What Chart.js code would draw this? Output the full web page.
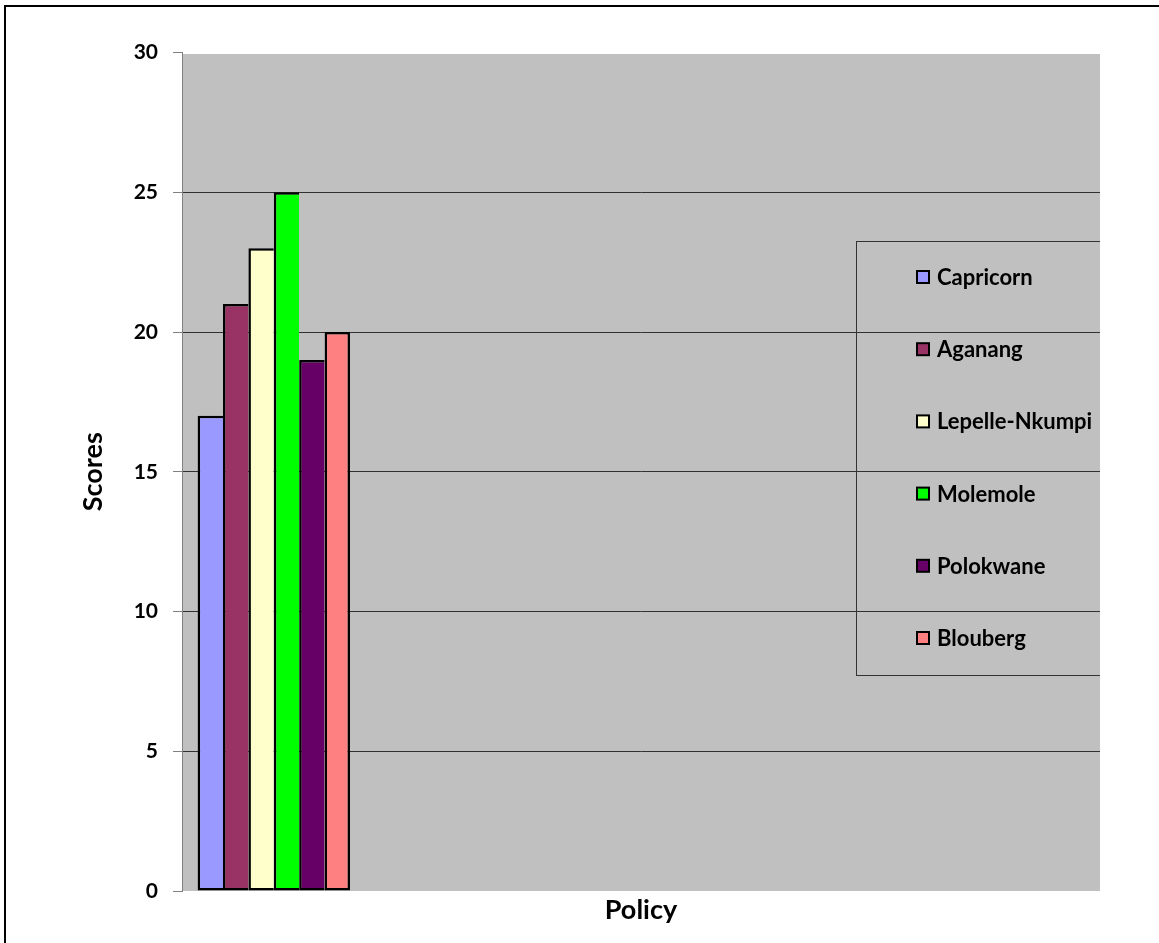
<!doctype html>
<html lang="en">
<head>
    <meta charset="utf-8">
    <title>Scores by municipality</title>
    <script src="https://cdn.jsdelivr.net/npm/chart.js"></script>
    <style>
        html, body { margin: 0; padding: 0; background: #fff; }
        #wrap { width: 1159px; height: 943px; }
    </style>
</head>
<body>
    <div id="wrap"><canvas id="scoreChart" width="1159" height="943"></canvas></div>
    <script type="text/javascript">
        // x categories: only the first slot carries bars, the rest stay empty
        var categories = ['Policy', '', '', '', ''];
        var municipalities = ['Capricorn', 'Aganang', 'Lepelle-Nkumpi', 'Molemole', 'Polokwane', 'Blouberg'];
        var scores = [17, 21, 23, 25, 19, 20];
        var barColours = ['#9999FF', '#993366', '#FFFFCC', '#00FF00', '#660066', '#FF8080'];
        var yTicks = [0, 5, 10, 15, 20, 25, 30];
        var xTitle = 'Policy';
        var yTitle = 'Scores';

        var FONT = 'Lato';

        var datasets = municipalities.map(function (name, i) {
            var last = i === municipalities.length - 1;
            return {
                label: name,
                data: [scores[i]],
                backgroundColor: barColours[i],
                borderColor: '#000',
                // shared edges only get one border so neighbours don't double up
                borderWidth: { top: 2.5, left: 2.5, bottom: 2.5, right: last ? 2.5 : 0 },
                borderSkipped: false,
                inflateAmount: 0,
                barPercentage: 1,
                categoryPercentage: 0.83
            };
        });

        // white page, outer frame and grey plot area
        var backdrop = {
            id: 'backdrop',
            beforeDraw: function (chart) {
                var ctx = chart.ctx, a = chart.chartArea;
                ctx.save();
                ctx.fillStyle = '#fff';
                ctx.fillRect(0, 0, chart.width, chart.height);
                ctx.fillStyle = '#000';
                ctx.fillRect(4, 5, chart.width - 4, 2);
                ctx.fillRect(4, 5, 2, chart.height - 5);
                ctx.fillStyle = '#C0C0C0';
                ctx.fillRect(a.left + 1, a.top + 1.5, a.right - a.left - 1, a.bottom - a.top - 1.5);
                ctx.restore();
            }
        };

        // legend box sitting on the plot, cut off at the plot's right edge
        var legendBox = {
            id: 'legendBox',
            afterDraw: function (chart) {
                var ctx = chart.ctx, a = chart.chartArea;
                ctx.save();
                ctx.beginPath();
                ctx.rect(0, 0, a.right, chart.height);
                ctx.clip();
                ctx.strokeStyle = '#333';
                ctx.lineWidth = 1;
                ctx.strokeRect(856.5, 241.5, 400, 434);
                ctx.font = 'bold 22px ' + FONT;
                ctx.textBaseline = 'middle';
                chart.data.datasets.forEach(function (ds, i) {
                    var y = 277 + i * 72.2;
                    ctx.fillStyle = '#000';
                    ctx.fillRect(916, y - 7, 14, 14);
                    ctx.fillStyle = ds.backgroundColor;
                    ctx.fillRect(918, y - 5, 10, 10);
                    ctx.fillStyle = '#000';
                    ctx.fillText(ds.label, 937, y + 1);
                });
                ctx.restore();
            }
        };

        var ctx = document.getElementById('scoreChart').getContext('2d');
        var scoreChart = new Chart(ctx, {
            type: 'bar',
            data: { labels: categories, datasets: datasets },
            plugins: [backdrop, legendBox],
            options: {
                responsive: false,
                animation: false,
                layout: { padding: { left: 0, top: 52.5, right: 59, bottom: 0 } },
                plugins: {
                    legend: { display: false },
                    tooltip: { enabled: false }
                },
                scales: {
                    x: {
                        offset: true,
                        afterFit: function (s) { s.height = 52; },
                        ticks: { display: false },
                        grid: { display: false },
                        border: { display: false },
                        title: {
                            display: true,
                            text: xTitle,
                            color: '#000',
                            font: { family: FONT, size: 27, weight: 'bold' },
                            padding: { top: 0, bottom: 17 }
                        }
                    },
                    y: {
                        min: 0,
                        max: 30,
                        afterBuildTicks: function (s) {
                            s.ticks = yTicks.map(function (v) { return { value: v }; });
                        },
                        afterFit: function (s) { s.width = 182; },
                        ticks: {
                            color: '#000',
                            font: { family: FONT, size: 21, weight: 'bold' },
                            padding: 15
                        },
                        grid: {
                            color: function (c) {
                                var v = c.tick ? c.tick.value : null;
                                return (v === 0 || v === 30) ? 'rgba(0,0,0,0)' : '#303030';
                            },
                            tickColor: '#808080',
                            tickLength: 9,
                            lineWidth: 1
                        },
                        border: { color: '#808080', width: 1 },
                        title: {
                            display: true,
                            text: yTitle,
                            color: '#000',
                            font: { family: FONT, size: 27, weight: 'bold' },
                            padding: { top: 77, bottom: 0 }
                        }
                    }
                }
            }
        });
    </script>
</body>
</html>
